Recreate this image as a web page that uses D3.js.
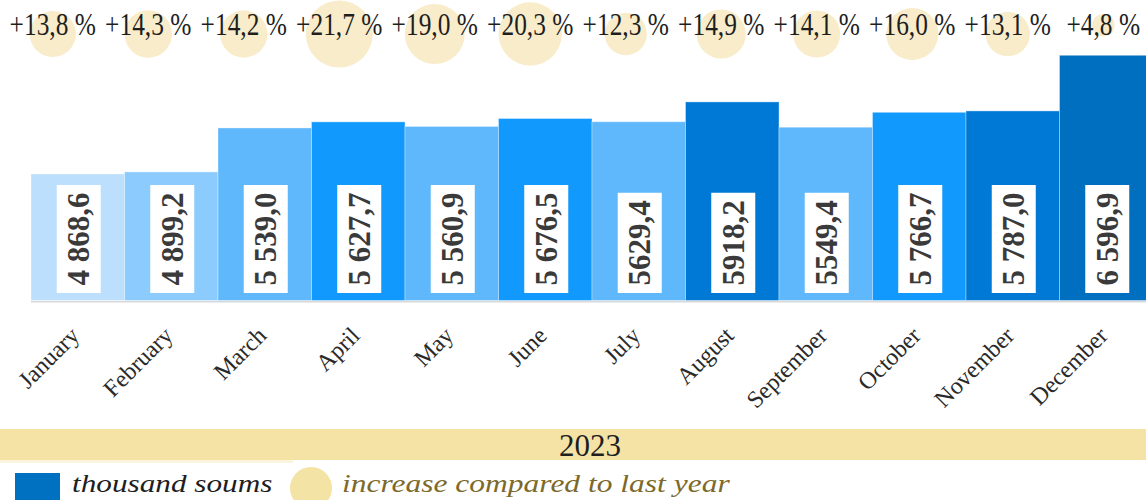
<!DOCTYPE html>
<html>
<head>
<meta charset="utf-8">
<script src="https://cdn.jsdelivr.net/npm/d3@7"></script>
<style>
  html, body { margin: 0; padding: 0; background: #fff; }
  svg { display: block; }
</style>
</head>
<body>
<svg id="chart" width="1146" height="500"></svg>
<script>
const months = ["January","February","March","April","May","June","July","August","September","October","November","December"];
const values = [4868.6, 4899.2, 5539.0, 5627.7, 5560.9, 5676.5, 5629.4, 5918.2, 5549.4, 5766.7, 5787.0, 6596.9];
const valueLabels = ["4 868,6","4 899,2","5 539,0","5 627,7","5 560,9","5 676,5","5629,4","5918,2","5549,4","5 766,7","5 787,0","6 596,9"];
const growth = [13.8, 14.3, 14.2, 21.7, 19.0, 20.3, 12.3, 14.9, 14.1, 16.0, 13.1, 4.8];
const yearLabel = "2023";
const legendLabels = ["thousand soums", "increase compared to last year"];

const barPalette = ["#bbdffc","#8ccbfd","#5fb8fc","#1199fe","#5fb8fc","#1199fe","#5fb8fc","#0079d6","#5fb8fc","#1199fe","#0079d6","#006fbf"];

const svg = d3.select("#chart");
const serif = "'Liberation Serif','Times New Roman',serif";

const x = d3.scaleBand().domain(months).range([31, 1153]).padding(0);
const xTop = d3.scaleBand().domain(months).range([5, 1151]).padding(0);
const y = d3.scaleLinear().domain([3027, 7000]).range([300.5, 27.6]);
const r = d3.scaleLinear().domain([0, 21.7]).range([5, 33.5]);

const data = months.map((m, i) => ({m, v: values[i], lab: valueLabels[i], g: growth[i], c: barPalette[i]}));

// growth circles
svg.append("g").selectAll("circle").data(data).join("circle")
  .attr("cx", d => xTop(d.m) + xTop.bandwidth()/2)
  .attr("cy", d => Math.min(r(d.g) + 14, 34))
  .attr("r", d => r(d.g))
  .attr("fill", "#f8ecca");

// growth labels
svg.append("g").selectAll("text").data(data).join("text")
  .attr("transform", d => `translate(${xTop(d.m) + xTop.bandwidth()/2},35) scale(0.82,1)`)
  .attr("text-anchor", "middle")
  .attr("font-family", serif)
  .attr("font-size", 31)
  .attr("fill", "#1e1e1e")
  .text(d => "+" + d.g.toFixed(1).replace(".", ",") + " %");

// bars
svg.append("g").selectAll("rect").data(data).join("rect")
  .attr("x", d => x(d.m))
  .attr("width", x.bandwidth())
  .attr("y", d => y(d.v))
  .attr("height", d => y.range()[0] - y(d.v))
  .attr("fill", d => d.c)
  .attr("stroke", "rgba(255,255,255,0.35)")
  .attr("stroke-width", 1);

// baseline
svg.append("line")
  .attr("x1", 31).attr("x2", 1146)
  .attr("y1", 301.8).attr("y2", 301.8)
  .attr("stroke", "#d9d9d9").attr("stroke-width", 1.6);

// value labels
const lg = svg.append("g").selectAll("g").data(data).join("g")
  .attr("transform", d => `translate(${x(d.m) + x.bandwidth()/2 + 1},293)`);
const boxes = lg.append("rect").attr("fill", "#fff");
const vt = lg.append("text")
  .attr("transform", "rotate(-90)")
  .attr("x", 7.5)
  .attr("y", 0)
  .attr("dy", "0.34em")
  .attr("font-family", serif)
  .attr("font-size", 31)
  .attr("font-weight", "bold")
  .attr("fill", "#3a3a3a")
  .text(d => d.lab);
vt.each(function(d) { d.len = this.getComputedTextLength(); });
boxes
  .attr("x", -22)
  .attr("width", 44)
  .attr("y", d => -(d.len + 15))
  .attr("height", d => d.len + 15);

// month labels
svg.append("g").selectAll("text").data(data).join("text")
  .attr("transform", d => `translate(${x(d.m) + x.bandwidth()/2 + 3},337) rotate(-45)`)
  .attr("text-anchor", "end")
  .attr("font-family", serif)
  .attr("font-size", 24)
  .attr("fill", "#2a2a2a")
  .text(d => d.m);

// year band
svg.append("rect").attr("x", 0).attr("y", 429).attr("width", 1146).attr("height", 31).attr("fill", "#f5e3a6");
svg.append("rect").attr("x", 0).attr("y", 460).attr("width", 293).attr("height", 3).attr("fill", "#fbf4de");
svg.append("text")
  .attr("x", (x.range()[0] + x.range()[1]) / 2 - 2)
  .attr("y", 456)
  .attr("text-anchor", "middle")
  .attr("font-family", serif)
  .attr("font-size", 31)
  .attr("fill", "#1e1e1e")
  .text(yearLabel);

// legend
svg.append("rect").attr("x", 15).attr("y", 473).attr("width", 45).attr("height", 30).attr("fill", "#0070c0");
svg.append("text")
  .attr("transform", "translate(72,492) scale(1.25,1)")
  .attr("font-family", serif).attr("font-style", "italic")
  .attr("font-size", 25).attr("fill", "#1e1e1e")
  .text(legendLabels[0]);
svg.append("circle").attr("cx", 311).attr("cy", 488).attr("r", 21).attr("fill", "#f3e3a5");
svg.append("text")
  .attr("transform", "translate(342,492) scale(1.26,1)")
  .attr("font-family", serif).attr("font-style", "italic")
  .attr("font-size", 25).attr("fill", "#7d6a2a")
  .text(legendLabels[1]);
</script>
</body>
</html>
